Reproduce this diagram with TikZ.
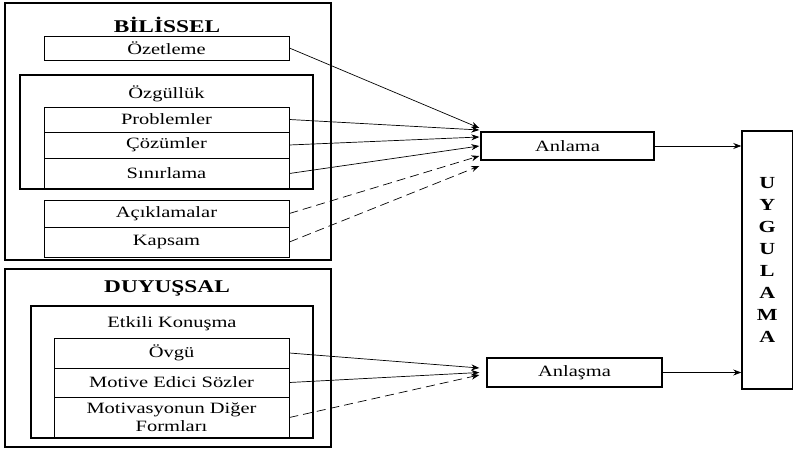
\documentclass[tikz,border=0pt]{standalone}
\usepackage{fontspec}
\setmainfont{Liberation Serif}[FakeStretch=1.3]
\usepackage{tikz}
\usetikzlibrary{arrows.meta}

\begin{document}
\begin{tikzpicture}[x=1bp, y=-1bp,
  font=\fontsize{15.8}{18}\selectfont,
  framebox/.style={draw, line width=1.6pt, inner sep=0pt},
  itembox/.style={draw, line width=0.8pt, inner sep=0pt, align=center},
  titletext/.style={font=\fontsize{18}{20}\selectfont\bfseries},
  resultbox/.style={draw, line width=1.4pt, inner sep=0pt},
  solidarrow/.style={->, >={Stealth[length=8pt,width=6pt]}, line width=0.7pt},
  dashedarrow/.style={solidarrow, dash pattern=on 9bp off 5bp}]

\useasboundingbox (0,0) rectangle (793,449);

% BILISSEL
\node[framebox, minimum width=326bp, minimum height=257bp] (1) at (168,131.5) {};
\node[titletext] (2) at (167,25) {BİLİSSEL};

\node[itembox, minimum width=245bp, minimum height=24bp] (3) at (166.5,48) {Özetleme};

\node[framebox, minimum width=293bp, minimum height=114bp] (4) at (166.5,132) {};
\node (5) at (166.5,94) {Özgüllük};

\node[itembox, minimum width=245bp, minimum height=25bp] (6) at (166.5,119.5) {Problemler};
\node[itembox, minimum width=245bp, minimum height=26bp] (7) at (166.5,145) {Çözümler};
\node[itembox, minimum width=245bp, minimum height=31bp] (8) at (166.5,173.5) {Sınırlama};

\node[itembox, minimum width=245bp, minimum height=27bp] (9) at (166.5,213.5) {Açıklamalar};
\node[itembox, minimum width=245bp, minimum height=30bp] (10) at (166.5,242) {Kapsam};

% DUYUSSAL
\node[framebox, minimum width=326bp, minimum height=178bp] (11) at (168,358) {};
\node[titletext] (12) at (167,288) {DUYUŞSAL};

\node[framebox, minimum width=282bp, minimum height=132bp] (13) at (172,372) {};
\node (14) at (172,324) {Etkili Konuşma};

\node[itembox, minimum width=235bp, minimum height=30bp] (15) at (171.5,353) {Övgü};
\node[itembox, minimum width=235bp, minimum height=29bp] (16) at (171.5,382.5) {Motive Edici Sözler};
\node[itembox, minimum width=235bp, minimum height=41bp] (17) at (171.5,417.5)
{Motivasyonun Diğer\\Formları};

% results
\node[resultbox, minimum width=173bp, minimum height=28bp] (18) at (567.5,146) {Anlama};
\node[resultbox, minimum width=175bp, minimum height=29bp] (19) at (574.5,372.5) {Anlaşma};

\node[framebox, minimum width=50.5bp, minimum height=258bp, align=center,
  font=\fontsize{17}{22}\selectfont\bfseries] (20) at (767.3,260)
{U\\Y\\G\\U\\L\\A\\M\\A};

\draw[solidarrow] (3.east) -- ([xshift=-1bp,yshift=18bp]18.west);
\draw[solidarrow] (6.east) -- ([xshift=-1bp,yshift=16bp]18.west);
\draw[solidarrow] (7.east) -- ([xshift=-1bp,yshift=9bp]18.west);
\draw[solidarrow] (8.east) -- ([xshift=-1bp]18.west);
\draw[dashedarrow] (9.east) -- ([xshift=-1bp,yshift=-10bp]18.west);
\draw[dashedarrow] (10.east) -- ([xshift=-1bp,yshift=-20bp]18.west);

\draw[solidarrow] (15.east) -- ([xshift=-7bp,yshift=4.5bp]19.west);
\draw[solidarrow] (16.east) -- ([xshift=-7bp]19.west);
\draw[dashedarrow] (17.east) -- ([xshift=-7bp,yshift=-2.5bp]19.west);

\draw[solidarrow] (18.east) -- (18.east -| 20.west);
\draw[solidarrow] (19.east) -- (19.east -| 20.west);

\end{tikzpicture}
\end{document}
